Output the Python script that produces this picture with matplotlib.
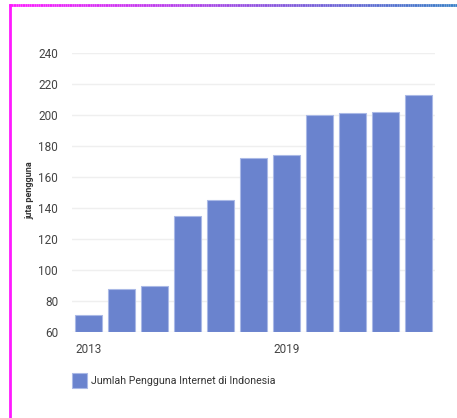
import matplotlib
matplotlib.use("Agg")
import matplotlib.pyplot as plt
import numpy as np
from matplotlib.collections import LineCollection
from matplotlib.patches import Rectangle

years = [str(y) for y in range(2013, 2024)]
users = [71, 88, 90, 135, 145, 172, 174, 200, 201, 202, 213]
shown_year_labels = ["2013", "2019"]
y_ticks = [60, 80, 100, 120, 140, 160, 180, 200, 220, 240]
series_name = "Jumlah Pengguna Internet di Indonesia"
y_title = "juta pengguna"

plt.rcParams["font.family"] = ["Roboto", "DejaVu Sans"]

W, H = 457, 418
fig = plt.figure(figsize=(W / 100, H / 100), dpi=100)
fig.patch.set_facecolor("white")

ax = fig.add_axes([72 / W, 1 - 332 / H, (435 - 72) / W, (332 - 53) / H])
x = np.arange(len(years))
ax.bar(x, [v - 60 for v in users], bottom=60, width=0.82,
       color="#6a83ce", edgecolor="#aab9e6", linewidth=0.8, zorder=3)

ax.set_xlim(-0.5, len(years) - 0.5)
ax.set_ylim(60, 240)
ax.set_yticks(y_ticks)
ax.set_yticklabels([str(t) for t in y_ticks], fontsize=8.5, color="#444444")
ax.set_xticks([years.index(y) for y in shown_year_labels])
ax.set_xticklabels(shown_year_labels, fontsize=8.5, color="#444444")
ax.tick_params(axis="both", length=0)
ax.tick_params(axis="y", pad=10)
ax.tick_params(axis="x", pad=8)
ax.grid(axis="y", color="#efefef", linewidth=1, zorder=0)
for s in ax.spines.values():
    s.set_visible(False)

fig.text(30 / W, 1 - 190 / H, y_title, rotation=90, ha="center", va="center",
         fontsize=6.5, color="#333333", fontweight="bold")

# legend swatch and label
fig.patches.append(Rectangle((72 / W, 1 - 388 / H), 15 / W, 15 / H,
                             transform=fig.transFigure, facecolor="#6a83ce",
                             edgecolor="#aab9e6", linewidth=0.8))
fig.text(91 / W, 1 - 381 / H, series_name, ha="left", va="center",
         fontsize=7.7, color="#333333")

# frame: magenta left edge, magenta-to-blue top edge
fig.add_artist(plt.Line2D([9.5 / W, 9.5 / W], [0, 1 - 5 / H],
                          transform=fig.transFigure, color="#ff1aff", linewidth=2))
n = 200
xs = np.linspace(9 / W, 1, n + 1)
segs = [[(xs[i], 1 - 5 / H), (xs[i + 1], 1 - 5 / H)] for i in range(n)]
c0 = np.array([1.0, 0.1, 1.0])
c1 = np.array([0.22, 0.5, 0.78])
t = np.linspace(0, 1, n)[:, None]
cols = (1 - t) * c0 + t * c1
lc = LineCollection(segs, colors=cols, linewidths=2, transform=fig.transFigure)
fig.add_artist(lc)

fig.savefig("out.png", dpi=100, facecolor="white")
